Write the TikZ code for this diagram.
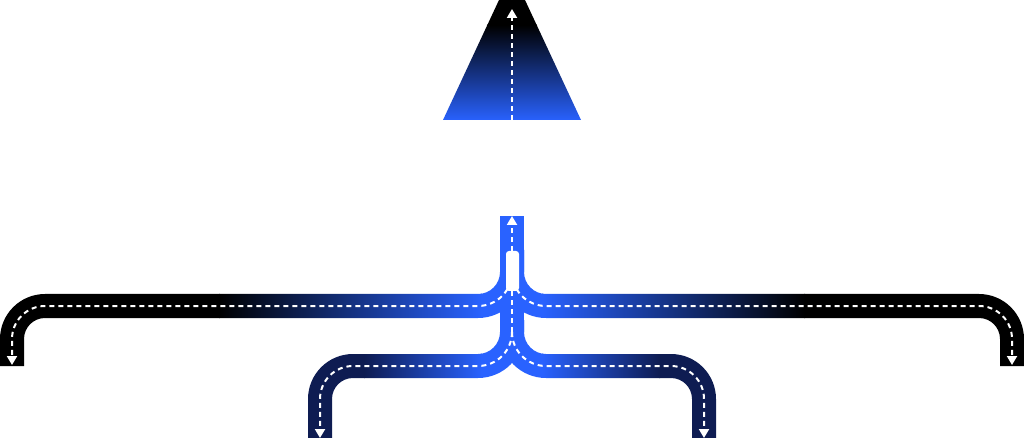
\documentclass[tikz,border=0pt]{standalone}
\usetikzlibrary{arrows.meta}
\definecolor{roadblue}{HTML}{2962FF}
\definecolor{roadnavy}{HTML}{0E1C52}
\begin{document}
\begin{tikzpicture}[x=1pt,y=-1pt,
  lane/.style={white, line width=2pt, dash pattern=on 5pt off 4pt},
  tip/.style={-{Triangle[width=10pt,length=9pt]}}]
\useasboundingbox (0,0) rectangle (1025,438);
% key points
\coordinate (top) at (512,216);
\coordinate (split1) at (512,272);
\coordinate (split2) at (512,332);
\coordinate (endUL) at (12,365);
\coordinate (endUR) at (1012,365);
\coordinate (endLL) at (320,438);
\coordinate (endLR) at (704,438);
% ---- top trapezoid
\begin{scope}
  \clip (499,0) -- (525,0) -- (581,120) -- (443,120) -- cycle;
  \fill[black] (440,-1) rectangle (585,26);
  \shade[top color=black, bottom color=roadblue] (440,25) rectangle (585,121);
\end{scope}
\draw[lane, tip] (512,120) -- (512,9);
% ---- upper-left branch
\begin{scope}
  \clip (500,250) -- (500,272) arc[start angle=0, end angle=90, radius=22]
        -- (45,294) arc[start angle=270, end angle=180, radius=45]
        -- (0,366) -- (24,366) -- (24,339) arc[start angle=180, end angle=270, radius=21]
        -- (478,318) arc[start angle=90, end angle=0, radius=46] -- (524,250) -- cycle;
  \fill[black] (-1,240) rectangle (220,370);
  \shade[left color=black, right color=roadblue] (219,240) rectangle (482,370);
  \fill[roadblue] (481,240) rectangle (530,370);
\end{scope}
% ---- upper-right branch
\begin{scope}
  \clip (524,250) -- (524,272) arc[start angle=180, end angle=90, radius=22]
        -- (979,294) arc[start angle=270, end angle=360, radius=45]
        -- (1024,366) -- (1000,366) -- (1000,339) arc[start angle=360, end angle=270, radius=21]
        -- (546,318) arc[start angle=90, end angle=180, radius=46] -- (500,250) -- cycle;
  \fill[black] (804,240) rectangle (1026,370);
  \shade[left color=roadblue, right color=black] (542,240) rectangle (805,370);
  \fill[roadblue] (494,240) rectangle (543,370);
\end{scope}
% ---- lower-left branch
\begin{scope}
  \clip (500,320) -- (500,332) arc[start angle=0, end angle=90, radius=22]
        -- (353,354) arc[start angle=270, end angle=180, radius=45]
        -- (308,440) -- (332,440) -- (332,399) arc[start angle=180, end angle=270, radius=21]
        -- (478,378) arc[start angle=90, end angle=0, radius=46] -- (524,320) -- cycle;
  \fill[roadnavy] (300,310) rectangle (365,442);
  \shade[left color=roadnavy, right color=roadblue] (364,310) rectangle (482,442);
  \fill[roadblue] (481,310) rectangle (530,442);
\end{scope}
% ---- lower-right branch
\begin{scope}
  \clip (524,320) -- (524,332) arc[start angle=180, end angle=90, radius=22]
        -- (671,354) arc[start angle=270, end angle=360, radius=45]
        -- (716,440) -- (692,440) -- (692,399) arc[start angle=360, end angle=270, radius=21]
        -- (546,378) arc[start angle=90, end angle=180, radius=46] -- (500,320) -- cycle;
  \fill[roadnavy] (659,310) rectangle (724,442);
  \shade[left color=roadblue, right color=roadnavy] (542,310) rectangle (660,442);
  \fill[roadblue] (494,310) rectangle (543,442);
\end{scope}
% ---- stem
\draw[line width=24pt, roadblue] (split2) -- (top);
% ---- lane markings
\draw[lane, tip] (split2) -- (top);
\draw[lane, tip] (split1) arc[start angle=0, end angle=90, radius=34]
      -- (45,306) arc[start angle=270, end angle=180, radius=33] -- (endUL);
\draw[lane, tip] (split1) arc[start angle=180, end angle=90, radius=34]
      -- (979,306) arc[start angle=270, end angle=360, radius=33] -- (endUR);
\draw[lane, tip] (split2) arc[start angle=0, end angle=90, radius=34]
      -- (353,366) arc[start angle=270, end angle=180, radius=33] -- (endLL);
\draw[lane, tip] (split2) arc[start angle=180, end angle=90, radius=34]
      -- (671,366) arc[start angle=270, end angle=360, radius=33] -- (endLR);
% ---- car
\fill[white, rounded corners=3pt] (506,251) rectangle (519,291);
\end{tikzpicture}
\end{document}
